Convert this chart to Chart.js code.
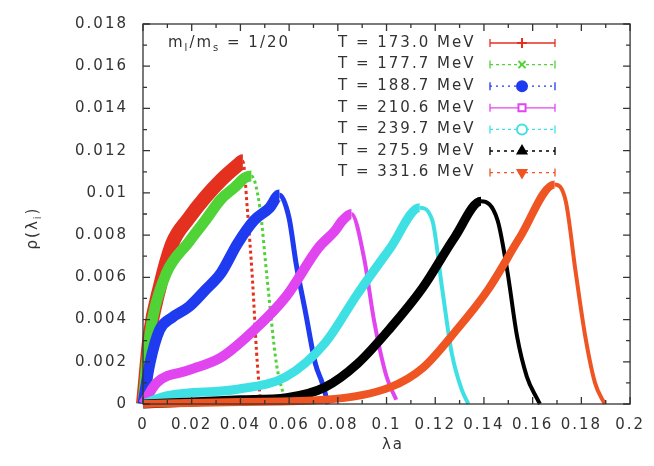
<!DOCTYPE html>
<html>
<head>
<meta charset="utf-8">
<title>rho(lambda) spectrum</title>
<script src="https://cdn.jsdelivr.net/npm/chart.js@4.4.1/dist/chart.umd.min.js"></script>
<style>
  html, body { margin: 0; padding: 0; background: #fff; }
  #wrap { width: 654px; height: 466px; }
</style>
</head>
<body>
<div id="wrap"><canvas id="rhoChart" width="654" height="466"></canvas></div>
<script>
// tick labels
const xTicks = [0, 0.02, 0.04, 0.06, 0.08, 0.1, 0.12, 0.14, 0.16, 0.18, 0.2];
const yTicks = [0, 0.002, 0.004, 0.006, 0.008, 0.01, 0.012, 0.014, 0.016, 0.018];

// series names
const temps = ["T = 173.0 MeV", "T = 177.7 MeV", "T = 188.7 MeV", "T = 210.6 MeV",
               "T = 239.7 MeV", "T = 275.9 MeV", "T = 331.6 MeV"];

// values (lambda*a, rho)
const t173x = [0, 0.0028, 0.0068, 0.012, 0.0188, 0.0256, 0.032, 0.0388, 0.041, 0.0428, 0.045, 0.0466, 0.048];
const t173y = [0, 0.0033, 0.0055, 0.0076, 0.0088, 0.0098, 0.0106, 0.0113, 0.0115, 0.0093, 0.0058, 0.0025, 0.0004];

const t177x = [0, 0.002, 0.004, 0.0096, 0.019, 0.0256, 0.032, 0.038, 0.0416, 0.0445, 0.048, 0.051, 0.0548, 0.0576, 0.059];
const t177y = [0, 0.0025, 0.0041, 0.0062, 0.0077, 0.0087, 0.0097, 0.0103, 0.0107, 0.0108, 0.0093, 0.0059, 0.0019, 0.0005, 0];

const t188x = [0, 0.0028, 0.0068, 0.012, 0.0188, 0.0256, 0.032, 0.0388, 0.0456, 0.052, 0.056, 0.06, 0.0628, 0.0668, 0.0708, 0.0736, 0.076];
const t188y = [0, 0.0019, 0.0035, 0.0041, 0.0046, 0.0054, 0.0062, 0.0076, 0.0087, 0.0093, 0.0099, 0.0088, 0.0067, 0.0043, 0.0019, 0.001, 0];

const t210x = [0, 0.0056, 0.0188, 0.032, 0.0456, 0.0588, 0.072, 0.0788, 0.082, 0.0856, 0.0908, 0.0948, 0.1, 0.104];
const t210y = [0, 0.001, 0.0016, 0.0022, 0.0035, 0.0051, 0.0074, 0.0082, 0.0087, 0.009, 0.0069, 0.004, 0.0013, 0.0002];

const t239x = [0, 0.01, 0.0388, 0.0588, 0.0748, 0.088, 0.1016, 0.1136, 0.1188, 0.1228, 0.1268, 0.1308, 0.1336];
const t239y = [0, 0.0004, 0.0007, 0.0013, 0.0029, 0.0052, 0.0074, 0.0093, 0.0087, 0.0055, 0.0024, 0.0007, 0];

const t275x = [0, 0.02, 0.04, 0.059, 0.0748, 0.088, 0.1016, 0.1148, 0.128, 0.1388, 0.1456, 0.1496, 0.1536, 0.1576, 0.1616, 0.163];
const t275y = [0, 0.0001, 0.0002, 0.0003, 0.0008, 0.0019, 0.0036, 0.0055, 0.0079, 0.0096, 0.0087, 0.0063, 0.0032, 0.0013, 0.0003, 0];

const t331x = [0, 0.04, 0.0748, 0.1016, 0.1148, 0.128, 0.1416, 0.1548, 0.169, 0.1736, 0.1776, 0.1816, 0.1856, 0.1896];
const t331y = [0, 0.0001, 0.0002, 0.0008, 0.0017, 0.0034, 0.0054, 0.0079, 0.0104, 0.0096, 0.0063, 0.0032, 0.001, 0];

const seriesX = [t173x, t177x, t188x, t210x, t239x, t275x, t331x];
const seriesY = [t173y, t177y, t188y, t210y, t239y, t275y, t331y];

// styles
const colors = ["#e4301f", "#4fd337", "#1f3bf0", "#e045f0", "#3fe0e4", "#000000", "#ef5423"];
const upWidth = [14, 11, 11, 10, 9, 9, 8];
const downWidth = [3, 3, 5, 4, 4, 4, 4];
const markers = ["cross", "crossRot", "circle", "rect", "circle", "triangle", "triangle"];
const markerFill = [true, true, true, false, false, true, true];
const legendDash = [[], [3, 3], [2, 4], [], [3, 3], [3, 4], [3, 4]];

const FONT = "'DejaVu Sans', sans-serif";
const TEXT = "#333";

const datasets = seriesX.map((xs, i) => ({
    label: temps[i],
    data: xs.map((x, j) => ({ x: x, y: seriesY[i][j] })),
    borderColor: colors[i],
    borderWidth: upWidth[i],
    pointRadius: 0,
    cubicInterpolationMode: "monotone",
    fill: false,
    clip: 8,
    order: 7 - i,
    segment: {
        borderWidth: c => c.p1.parsed.y < c.p0.parsed.y ? downWidth[i] : upWidth[i],
        borderDash: c => (i < 2 && c.p1.parsed.y < c.p0.parsed.y) ? [3, 3] : undefined
    }
}));

const framePlugin = {
    id: "frame",
    beforeDraw(chart) {
        const ctx = chart.ctx;
        ctx.fillStyle = "#fff";
        ctx.fillRect(0, 0, chart.width, chart.height);
        ctx.letterSpacing = "2px";
    },
    afterDraw(chart) {
        const ctx = chart.ctx;
        const a = chart.chartArea;
        const xs = chart.scales.x, ys = chart.scales.y;
        ctx.save();
        ctx.strokeStyle = "#333";
        ctx.lineWidth = 1.3;
        ctx.strokeRect(a.left, a.top, a.right - a.left, a.bottom - a.top);

        // inward ticks, mirrored
        ctx.beginPath();
        yTicks.forEach((v, k) => {
            const py = ys.getPixelForValue(v);
            ctx.moveTo(a.left, py); ctx.lineTo(a.left + 7, py);
            ctx.moveTo(a.right, py); ctx.lineTo(a.right - 7, py);
            if (k < yTicks.length - 1) {
                const pm = ys.getPixelForValue((v + yTicks[k + 1]) / 2);
                ctx.moveTo(a.left, pm); ctx.lineTo(a.left + 4, pm);
                ctx.moveTo(a.right, pm); ctx.lineTo(a.right - 4, pm);
            }
        });
        xTicks.forEach((v, k) => {
            const px = xs.getPixelForValue(v);
            ctx.moveTo(px, a.bottom); ctx.lineTo(px, a.bottom - 7);
            ctx.moveTo(px, a.top); ctx.lineTo(px, a.top + 7);
            if (k < xTicks.length - 1) {
                const pm = xs.getPixelForValue((v + xTicks[k + 1]) / 2);
                ctx.moveTo(pm, a.bottom); ctx.lineTo(pm, a.bottom - 4);
                ctx.moveTo(pm, a.top); ctx.lineTo(pm, a.top + 4);
            }
        });
        ctx.stroke();

        ctx.letterSpacing = "2px";
        ctx.fillStyle = TEXT;
        ctx.textBaseline = "middle";

        // mass ratio note
        let x0 = 168;
        const yN = 43;
        const part = (s, size, dy) => {
            ctx.font = size + "px " + FONT;
            ctx.fillText(s, x0, yN + dy);
            x0 += ctx.measureText(s).width;
        };
        ctx.textAlign = "left";
        part("m", 15, 0); part("l", 10, 5); part("/m", 15, 0); part("s", 10, 5); part(" = 1/20", 15, 0);

        // legend
        ctx.font = "15px " + FONT;
        temps.forEach((t, i) => {
            const ly = 43 + i * 21.6;
            ctx.fillStyle = TEXT;
            ctx.textAlign = "left";
            ctx.fillText(t, 338, ly);
            ctx.strokeStyle = colors[i];
            ctx.lineWidth = 1.3;
            ctx.setLineDash(legendDash[i]);
            ctx.beginPath();
            ctx.moveTo(490, ly); ctx.lineTo(555, ly);
            ctx.stroke();
            ctx.setLineDash([]);
            ctx.beginPath();
            ctx.moveTo(490, ly - 4); ctx.lineTo(490, ly + 4);
            ctx.moveTo(555, ly - 4); ctx.lineTo(555, ly + 4);
            ctx.stroke();
            ctx.fillStyle = markerFill[i] ? colors[i] : "#fff";
            ctx.lineWidth = 2;
            Chart.helpers.drawPoint(ctx, {
                pointStyle: markers[i],
                radius: 5,
                rotation: i === 6 ? 180 : 0,
                borderWidth: 2
            }, 522, ly);
        });

        // axis titles
        ctx.fillStyle = TEXT;
        ctx.font = "15px " + FONT;
        ctx.textAlign = "center";
        ctx.fillText("λa", 393, 445);

        ctx.save();
        ctx.translate(33, 228);
        ctx.rotate(-Math.PI / 2);
        ctx.textAlign = "left";
        const w1 = ctx.measureText("ρ(λ").width;
        ctx.font = "10px " + FONT;
        const w2 = ctx.measureText("i").width;
        ctx.font = "15px " + FONT;
        const w3 = ctx.measureText(")").width;
        let sx = -(w1 + w2 + w3) / 2;
        ctx.fillText("ρ(λ", sx, 0); sx += w1;
        ctx.font = "10px " + FONT;
        ctx.fillText("i", sx, 5); sx += w2;
        ctx.font = "15px " + FONT;
        ctx.fillText(")", sx, 0);
        ctx.restore();

        ctx.restore();
    }
};

new Chart(document.getElementById("rhoChart"), {
    type: "line",
    data: { datasets: datasets },
    options: {
        responsive: false,
        animation: false,
        events: [],
        layout: { padding: { top: 22, right: 13, left: 0, bottom: 0 } },
        plugins: { legend: { display: false }, tooltip: { enabled: false } },
        scales: {
            x: {
                type: "linear",
                min: 0,
                max: 0.2,
                afterFit: s => { s.height = 62; },
                afterBuildTicks: s => { s.ticks = xTicks.map(v => ({ value: v })); },
                grid: { display: false, drawTicks: false },
                border: { display: false },
                ticks: {
                    autoSkip: false,
                    maxRotation: 0,
                    padding: 12,
                    color: TEXT,
                    font: { family: FONT, size: 15 },
                    callback: v => String(+v.toFixed(3))
                }
            },
            y: {
                type: "linear",
                min: 0,
                max: 0.018,
                afterFit: s => { s.width = 143; },
                afterBuildTicks: s => { s.ticks = yTicks.map(v => ({ value: v })); },
                grid: { display: false, drawTicks: false },
                border: { display: false },
                ticks: {
                    padding: 15,
                    color: TEXT,
                    font: { family: FONT, size: 15 },
                    callback: v => String(+v.toFixed(3))
                }
            }
        }
    },
    plugins: [framePlugin]
});
</script>
</body>
</html>
